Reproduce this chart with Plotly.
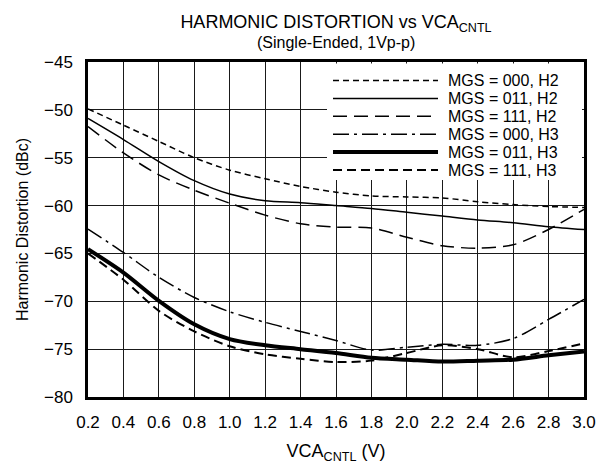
import plotly.graph_objects as go

# ---------------- data ----------------
vca_cntl = [0.2, 0.4, 0.6, 0.8, 1.0, 1.2, 1.4, 1.6, 1.8, 2.0, 2.2, 2.4, 2.6, 2.8, 3.0]

mgs000_h2 = [-49.9, -51.6, -53.3, -55.0, -56.3, -57.2, -58.0, -58.6, -59.0, -59.1, -59.2, -59.6, -59.9, -60.1, -60.2]
mgs011_h2 = [-50.9, -53.1, -55.4, -57.4, -58.8, -59.5, -59.7, -60.0, -60.3, -60.7, -61.1, -61.5, -61.8, -62.2, -62.5]
mgs111_h2 = [-51.75, -54.5, -56.8, -58.4, -59.75, -61.0, -61.9, -62.25, -62.35, -63.3, -64.2, -64.45, -64.1, -62.5, -60.4]
mgs000_h3 = [-62.45, -64.9, -67.5, -69.6, -71.1, -72.2, -73.15, -74.1, -75.1, -74.8, -74.5, -74.6, -73.9, -71.9, -69.8]
mgs011_h3 = [-64.55, -67.0, -69.95, -72.4, -73.95, -74.6, -75.0, -75.4, -75.9, -76.1, -76.3, -76.2, -76.1, -75.65, -75.25]
mgs111_h3 = [-65.0, -67.75, -71.0, -73.15, -74.7, -75.55, -76.0, -76.35, -76.2, -75.4, -74.6, -75.0, -75.85, -75.2, -74.4]

series_names = ["MGS = 000, H2", "MGS = 011, H2", "MGS = 111, H2",
                "MGS = 000, H3", "MGS = 011, H3", "MGS = 111, H3"]
series_values = [mgs000_h2, mgs011_h2, mgs111_h2, mgs000_h3, mgs011_h3, mgs111_h3]

x_tick_labels = ["0.2", "0.4", "0.6", "0.8", "1.0", "1.2", "1.4", "1.6",
                 "1.8", "2.0", "2.2", "2.4", "2.6", "2.8", "3.0"]
y_tick_values = [-80, -75, -70, -65, -60, -55, -50, -45]

title_line1 = "HARMONIC DISTORTION vs VCA<sub>CNTL</sub>"
title_line2 = "(Single-Ended, 1Vp-p)"
x_title = "VCA<sub>CNTL</sub> (V)"
y_title = "Harmonic Distortion (dBc)"

# ---------------- styles ----------------
line_styles = [
    dict(color="black", width=1.5, dash="6px,4px"),
    dict(color="black", width=1.5, dash="solid"),
    dict(color="black", width=1.5, dash="14px,7px"),
    dict(color="black", width=1.5, dash="16px,5px,3px,5px"),
    dict(color="black", width=4.0, dash="solid"),
    dict(color="black", width=2.0, dash="9px,5px"),
]

FONT = "Arial, Liberation Sans, Helvetica, sans-serif"

fig = go.Figure()
for name, vals, st in zip(series_names, series_values, line_styles):
    fig.add_trace(go.Scatter(
        x=vca_cntl, y=vals, name=name, mode="lines",
        line=dict(shape="spline", smoothing=0.8, **st),
        showlegend=False,
    ))

# ---------------- layout helpers (pixel -> paper) ----------------
L, R, T, B = 88, 584, 62, 397
W, H = R - L, B - T


def px_x(p):
    return (p - L) / W


def px_y(p):
    return (B - p) / H


# ---------------- manual legend (inside plot, top right) ----------------
shapes = [dict(type="rect", xref="paper", yref="paper",
               x0=px_x(327), x1=px_x(582), y0=px_y(180), y1=px_y(63.5),
               fillcolor="white", line=dict(width=0), layer="above")]
annotations = []
for i, (name, st) in enumerate(zip(series_names, line_styles)):
    yy = px_y(80.5 + 17.9 * i)
    shapes.append(dict(type="line", xref="paper", yref="paper",
                       x0=px_x(333), x1=px_x(438), y0=yy, y1=yy,
                       line=dict(color=st["color"], width=st["width"], dash=st["dash"]),
                       layer="above"))
    annotations.append(dict(xref="paper", yref="paper", x=px_x(446), y=yy,
                            xanchor="left", yanchor="middle", showarrow=False,
                            text=name, font=dict(family=FONT, size=16, color="black")))

# second title line
annotations.append(dict(xref="paper", yref="paper", x=px_x(336), y=px_y(43),
                        xanchor="center", yanchor="middle", showarrow=False,
                        text=title_line2, font=dict(family=FONT, size=16, color="black")))

fig.update_layout(
    width=613, height=470,
    margin=dict(l=L, r=613 - R, t=T, b=470 - B, pad=0),
    paper_bgcolor="white", plot_bgcolor="white",
    font=dict(family=FONT, color="black"),
    title=dict(
        text=title_line1,
        x=px_x(336), xref="paper", xanchor="center",
        y=1 - 22 / 470, yref="container", yanchor="middle",
        font=dict(family=FONT, size=18, color="black"),
    ),
    shapes=shapes,
    annotations=annotations,
    showlegend=False,
)

fig.update_xaxes(
    range=[0.2, 3.0], tickvals=vca_cntl, ticktext=x_tick_labels,
    showgrid=True, gridcolor="#1a1a1a", gridwidth=1,
    showline=True, linecolor="black", linewidth=2.5, mirror=True,
    ticks="", ticklabelstandoff=8,
    tickfont=dict(family=FONT, size=17, color="black"),
    title=dict(text=x_title, standoff=14,
               font=dict(family=FONT, size=18, color="black")),
    zeroline=False,
)
fig.update_yaxes(
    range=[-80, -45], tickvals=y_tick_values,
    showgrid=True, gridcolor="#1a1a1a", gridwidth=1,
    showline=True, linecolor="black", linewidth=2.5, mirror=True,
    ticks="", ticklabelstandoff=9,
    tickfont=dict(family=FONT, size=17, color="black"),
    title=dict(text=y_title, standoff=12,
               font=dict(family=FONT, size=16, color="black")),
    zeroline=False,
)

fig.write_html("out.html", config={"displayModeBar": False},
               post_script="document.body.style.margin='0px';")
